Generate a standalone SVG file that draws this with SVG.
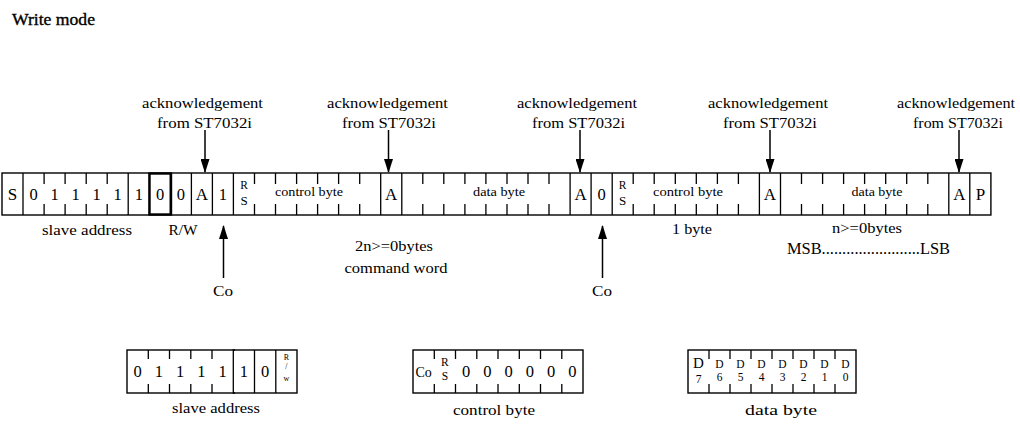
<svg xmlns="http://www.w3.org/2000/svg" width="1020" height="425" viewBox="0 0 1020 425" font-family="'Liberation Serif', serif">
<style>
.t{font-family:'Liberation Serif',serif;fill:#000}
.lb{font-size:15.5px;text-anchor:middle}
.bit{font-size:16.5px;text-anchor:middle}
.big{font-size:17px;text-anchor:middle}
.sm{font-size:11.5px;text-anchor:middle}
.xs{font-size:8px;text-anchor:middle}
.box{fill:none;stroke:#000;stroke-width:1.4}
.ln{fill:none;stroke:#000;stroke-width:1.3}
.bold{fill:none;stroke:#000;stroke-width:2.4}
.arr{fill:none;stroke:#000;stroke-width:1.5}
</style>
<defs>
<marker id="ah" viewBox="0 0 14 9" refX="13" refY="4.5" markerWidth="14" markerHeight="9" markerUnits="userSpaceOnUse" orient="auto">
<path d="M0,0 L14,4.5 L0,9 z" fill="#000"/>
</marker>
</defs>
<rect width="1020" height="425" fill="#fff"/>
<text class="t" x="12" y="24.5" font-size="16.5" textLength="83" lengthAdjust="spacingAndGlyphs" stroke="#000" stroke-width="0.35">Write mode</text>

<g id="main-frame">
<rect class="box" x="2" y="173" width="988.9" height="42"/>
<path class="ln" d="M23,173V215M128.2,173V215M149.3,173V215M170.3,173V215M191.4,173V215M212.4,173V215M233.4,173V215M380.7,173V215M401.8,173V215M570.1,173V215M591.1,173V215M612.2,173V215M759.4,173V215M780.5,173V215M948.8,173V215M969.8,173V215"/>
<path class="ln" d="M44.1,173V184M44.1,204V215M65.1,173V184M65.1,204V215M86.2,173V184M86.2,204V215M107.2,173V184M107.2,204V215M254.5,173V184M254.5,204V215M275.5,173V184M275.5,204V215M296.6,173V184M296.6,204V215M317.6,173V184M317.6,204V215M338.6,173V184M338.6,204V215M359.7,173V184M359.7,204V215M422.8,173V184M422.8,204V215M443.8,173V184M443.8,204V215M464.9,173V184M464.9,204V215M485.9,173V184M485.9,204V215M507,173V184M507,204V215M528,173V184M528,204V215M549,173V184M549,204V215M633.2,173V184M633.2,204V215M654.2,173V184M654.2,204V215M675.3,173V184M675.3,204V215M696.3,173V184M696.3,204V215M717.4,173V184M717.4,204V215M738.4,173V184M738.4,204V215M801.5,173V184M801.5,204V215M822.6,173V184M822.6,204V215M843.6,173V184M843.6,204V215M864.6,173V184M864.6,204V215M885.7,173V184M885.7,204V215M906.7,173V184M906.7,204V215M927.8,173V184M927.8,204V215"/>
<rect class="bold" x="149.5" y="173.5" width="21.5" height="41"/>
</g>

<g id="main-cells">
<text class="t big" x="12.5" y="200">S</text>
<text class="t bit" x="33.6" y="199.5">0</text>
<text class="t bit" x="54.6" y="199.5">1</text>
<text class="t bit" x="75.6" y="199.5">1</text>
<text class="t bit" x="96.7" y="199.5">1</text>
<text class="t bit" x="117.7" y="199.5">1</text>
<text class="t bit" x="138.8" y="199.5">1</text>
<text class="t bit" x="160.2" y="199.5">0</text>
<text class="t bit" x="180.8" y="199.5">0</text>
<text class="t big" x="201.9" y="200">A</text>
<text class="t bit" x="222.9" y="199.5">1</text>
<text class="t sm" x="244" y="188.5">R</text>
<text class="t" x="244" y="204.5" font-size="13" text-anchor="middle">S</text>
<text class="t" x="309" y="196" font-size="13" text-anchor="middle" textLength="68" lengthAdjust="spacingAndGlyphs">control byte</text>
<text class="t big" x="391.2" y="200">A</text>
<text class="t" x="499" y="196" font-size="13" text-anchor="middle" textLength="52" lengthAdjust="spacingAndGlyphs">data byte</text>
<text class="t big" x="580.6" y="200">A</text>
<text class="t bit" x="601.6" y="199.5">0</text>
<text class="t sm" x="622.7" y="188.5">R</text>
<text class="t" x="622.7" y="204.5" font-size="13" text-anchor="middle">S</text>
<text class="t" x="688" y="196" font-size="13" text-anchor="middle" textLength="70" lengthAdjust="spacingAndGlyphs">control byte</text>
<text class="t big" x="770" y="200">A</text>
<text class="t" x="877" y="196" font-size="13" text-anchor="middle" textLength="51" lengthAdjust="spacingAndGlyphs">data byte</text>
<text class="t big" x="959.3" y="200">A</text>
<text class="t big" x="980.4" y="200">P</text>
</g>

<g id="ack-labels">
<text class="t lb" x="202.5" y="108" textLength="121" lengthAdjust="spacingAndGlyphs">acknowledgement</text>
<text class="t lb" x="204.5" y="127.5" textLength="95" lengthAdjust="spacingAndGlyphs">from ST7032i</text>
<text class="t lb" x="387.5" y="108" textLength="121" lengthAdjust="spacingAndGlyphs">acknowledgement</text>
<text class="t lb" x="389" y="127.5" textLength="94" lengthAdjust="spacingAndGlyphs">from ST7032i</text>
<text class="t lb" x="577" y="108" textLength="120" lengthAdjust="spacingAndGlyphs">acknowledgement</text>
<text class="t lb" x="578.5" y="127.5" textLength="93" lengthAdjust="spacingAndGlyphs">from ST7032i</text>
<text class="t lb" x="768" y="108" textLength="120" lengthAdjust="spacingAndGlyphs">acknowledgement</text>
<text class="t lb" x="770" y="127.5" textLength="94" lengthAdjust="spacingAndGlyphs">from ST7032i</text>
<text class="t lb" x="956" y="108" textLength="118" lengthAdjust="spacingAndGlyphs">acknowledgement</text>
<text class="t lb" x="958" y="127.5" textLength="90" lengthAdjust="spacingAndGlyphs">from ST7032i</text>
</g>

<g id="connectors">
<line class="arr" x1="205" y1="130" x2="205" y2="172" marker-end="url(#ah)"/>
<line class="arr" x1="388.5" y1="130" x2="388.5" y2="172" marker-end="url(#ah)"/>
<line class="arr" x1="580" y1="130" x2="580" y2="172" marker-end="url(#ah)"/>
<line class="arr" x1="770" y1="130" x2="770" y2="172" marker-end="url(#ah)"/>
<line class="arr" x1="959" y1="130" x2="959" y2="172" marker-end="url(#ah)"/>
<line class="arr" x1="223.5" y1="278" x2="223.5" y2="226" marker-end="url(#ah)"/>
<line class="arr" x1="602.5" y1="278" x2="602.5" y2="226" marker-end="url(#ah)"/>
</g>

<g id="bar-labels">
<text class="t lb" x="87" y="234.5" textLength="90" lengthAdjust="spacingAndGlyphs">slave address</text>
<text class="t lb" x="183" y="234.5" textLength="29" lengthAdjust="spacingAndGlyphs">R/W</text>
<text class="t lb" x="394" y="250.5" textLength="78" lengthAdjust="spacingAndGlyphs">2n&gt;=0bytes</text>
<text class="t lb" x="396" y="272.5" textLength="103" lengthAdjust="spacingAndGlyphs">command word</text>
<text class="t lb" x="223" y="296" textLength="20" lengthAdjust="spacingAndGlyphs">Co</text>
<text class="t lb" x="602" y="296" textLength="20" lengthAdjust="spacingAndGlyphs">Co</text>
<text class="t lb" x="692" y="234" textLength="40" lengthAdjust="spacingAndGlyphs">1 byte</text>
<text class="t lb" x="867" y="232.5" textLength="70" lengthAdjust="spacingAndGlyphs">n&gt;=0bytes</text>
<text class="t" x="787" y="254" font-size="16" textLength="163" lengthAdjust="spacingAndGlyphs">MSB........................LSB</text>
</g>

<g id="slave-address-box">
<rect class="box" x="127" y="350" width="170" height="43"/>
<path class="ln" d="M148.3,350V359M148.3,384V393M169.5,350V359M169.5,384V393M190.8,350V359M190.8,384V393M212,350V359M212,384V393"/>
<path class="ln" d="M235,350H233.3V393H235M254.5,350V393M275.8,350V393"/>
<text class="t bit" x="137.6" y="377">0</text>
<text class="t bit" x="158.9" y="377">1</text>
<text class="t bit" x="180.1" y="377">1</text>
<text class="t bit" x="201.4" y="377">1</text>
<text class="t bit" x="222.6" y="377">1</text>
<text class="t bit" x="243.9" y="377">1</text>
<text class="t bit" x="265.1" y="377">0</text>
<text class="t xs" x="286.4" y="360">R</text>
<text class="t xs" x="286.4" y="369">/</text>
<text class="t xs" x="286.4" y="381">w</text>
<text class="t lb" x="216" y="413" textLength="88" lengthAdjust="spacingAndGlyphs">slave address</text>
</g>

<g id="control-byte-box">
<rect class="box" x="413" y="350" width="170" height="43"/>
<path class="ln" d="M434.3,350V359M434.3,384V393M455.5,350V359M455.5,384V393M476.8,350V359M476.8,384V393M498,350V359M498,384V393M519.3,350V359M519.3,384V393M540.5,350V359M540.5,384V393M561.8,350V359M561.8,384V393"/>
<text class="t" x="423.6" y="377" font-size="14" text-anchor="middle">Co</text>
<text class="t sm" x="444.9" y="366">R</text>
<text class="t sm" x="444.9" y="380">S</text>
<text class="t bit" x="466.1" y="377">0</text>
<text class="t bit" x="487.4" y="377">0</text>
<text class="t bit" x="508.6" y="377">0</text>
<text class="t bit" x="529.9" y="377">0</text>
<text class="t bit" x="551.1" y="377">0</text>
<text class="t bit" x="572.4" y="377">0</text>
<text class="t lb" x="494" y="415" textLength="82" lengthAdjust="spacingAndGlyphs">control byte</text>
</g>

<g id="data-byte-box">
<rect class="box" x="688" y="350" width="168" height="43"/>
<path class="ln" d="M709,350V359M709,384V393M730,350V359M730,384V393M751,350V359M751,384V393M772,350V359M772,384V393M793,350V359M793,384V393M814,350V359M814,384V393M835,350V359M835,384V393"/>
<text class="t" x="698.5" y="367.5" font-size="15" text-anchor="middle">D</text>
<text class="t sm" x="698.5" y="383">7</text>
<text class="t sm" x="719.5" y="368">D</text>
<text class="t sm" x="719.5" y="381">6</text>
<text class="t sm" x="740.5" y="368">D</text>
<text class="t sm" x="740.5" y="381">5</text>
<text class="t sm" x="761.5" y="368">D</text>
<text class="t sm" x="761.5" y="381">4</text>
<text class="t sm" x="782.5" y="368">D</text>
<text class="t sm" x="782.5" y="381">3</text>
<text class="t sm" x="803.5" y="368">D</text>
<text class="t sm" x="803.5" y="381">2</text>
<text class="t sm" x="824.5" y="368">D</text>
<text class="t sm" x="824.5" y="381">1</text>
<text class="t sm" x="845.5" y="368">D</text>
<text class="t sm" x="845.5" y="381">0</text>
<text class="t lb" x="781" y="415" textLength="72" lengthAdjust="spacingAndGlyphs">data byte</text>
</g>
</svg>
